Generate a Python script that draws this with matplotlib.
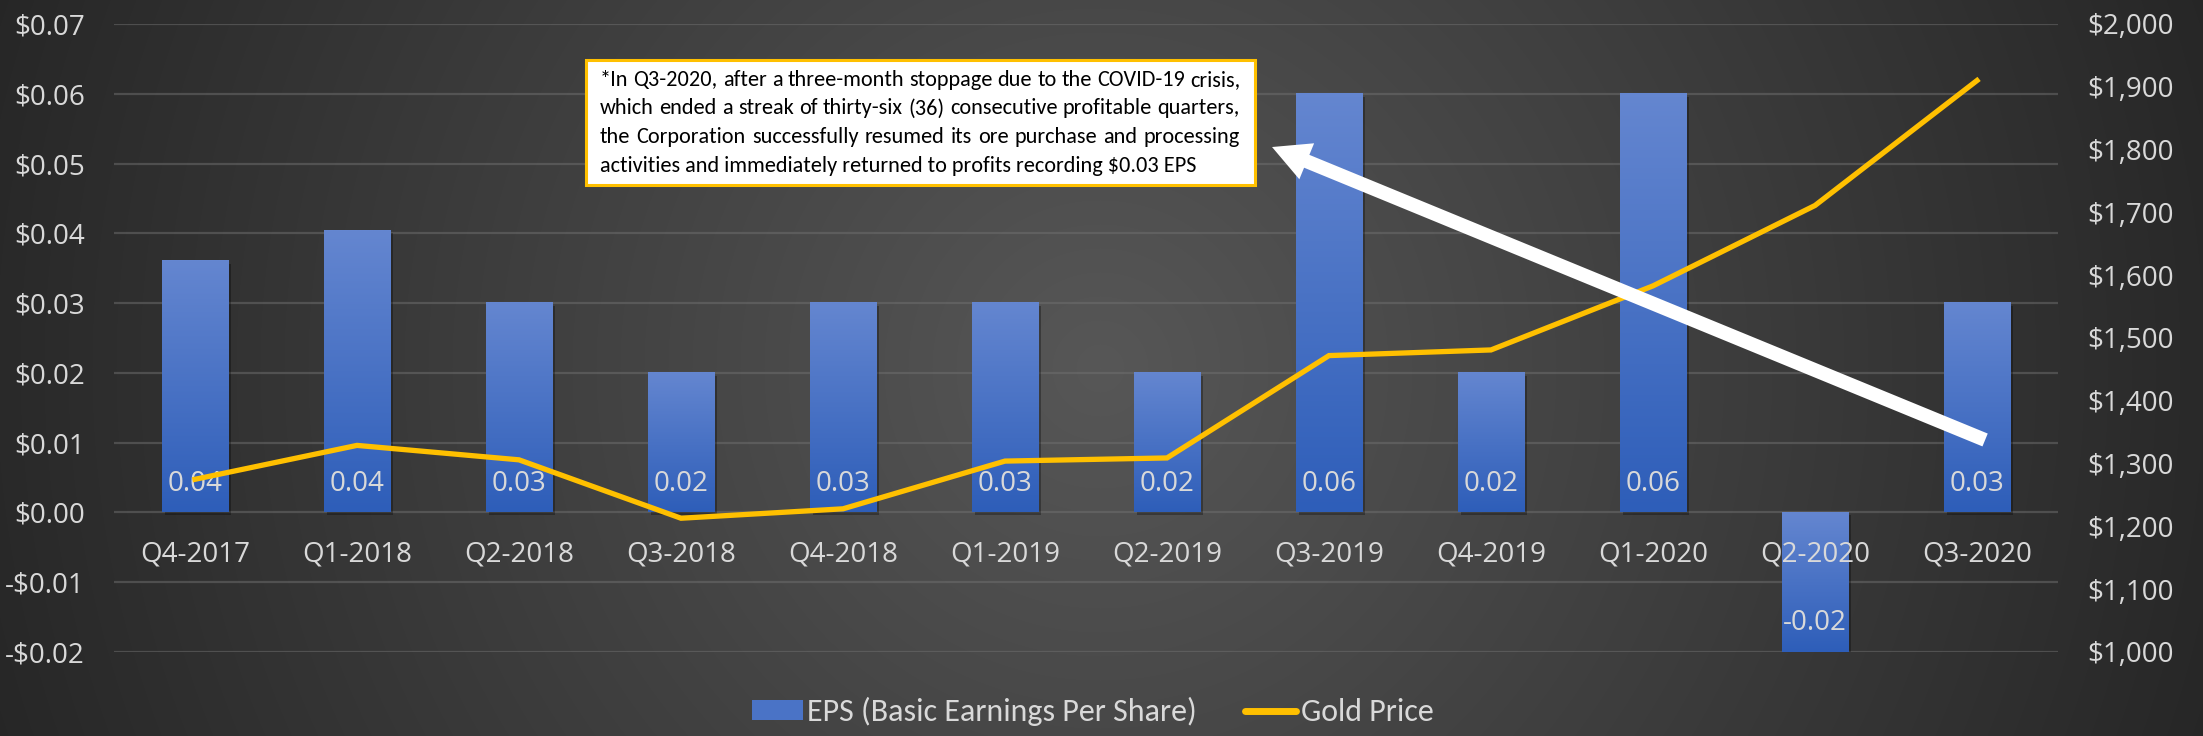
import numpy as np
import matplotlib
matplotlib.use("Agg")
import matplotlib.pyplot as plt
from matplotlib import font_manager
from matplotlib.colors import LinearSegmentedColormap
from matplotlib.patches import Patch, Rectangle
from matplotlib.lines import Line2D
import matplotlib.transforms as mtransforms

# data
quarters = ['Q4-2017', 'Q1-2018', 'Q2-2018', 'Q3-2018', 'Q4-2018', 'Q1-2019',
            'Q2-2019', 'Q3-2019', 'Q4-2019', 'Q1-2020', 'Q2-2020', 'Q3-2020']
eps = [0.036, 0.0404, 0.03, 0.02, 0.03, 0.03, 0.02, 0.06, 0.02, 0.06, -0.02, 0.03]
gold = [1275, 1329, 1306, 1213, 1228, 1304, 1309, 1472, 1481, 1583, 1711, 1910]
eps_ticks = [-0.02, -0.01, 0.0, 0.01, 0.02, 0.03, 0.04, 0.05, 0.06, 0.07]
gold_ticks = [1000, 1100, 1200, 1300, 1400, 1500, 1600, 1700, 1800, 1900, 2000]
note_lines = [
    "*In Q3-2020, after a three-month stoppage due to the COVID-19 crisis,",
    "which ended a streak of thirty-six (36) consecutive profitable quarters,",
    "the Corporation successfully resumed its ore purchase and processing",
    "activities and immediately returned to profits recording $0.03 EPS",
]

names = {f.name for f in font_manager.fontManager.ttflist}
def pick(*cands):
    for c in cands:
        if c in names:
            return c
    return 'DejaVu Sans'

main_font = pick('Open Sans', 'Noto Sans', 'DejaVu Sans')
narrow_font = pick('Carlito', 'Fira Sans Condensed', 'Roboto Condensed', 'Open Sans')
txt_col = '#d9d9d9'

W, H = 2203, 736
fig = plt.figure(figsize=(W / 100, H / 100), dpi=100)

# radial background
yy, xx = np.mgrid[0:H, 0:W]
d = np.sqrt((xx - 1100) ** 2 + (yy - 368) ** 2) / 1200
d = np.clip(d, 0, 1)
g = (0x57 - (0x57 - 0x25) * d) / 255
bg = np.dstack([g, g, g])
fig.figimage(bg, xo=0, yo=0, origin='upper', zorder=-5)

ax = fig.add_axes([114 / W, 1 - 652 / H, 1944 / W, 628 / H])
ax.set_facecolor('none')
ax2 = ax.twinx()

x = np.arange(len(quarters))
bw = 0.41
cmap = LinearSegmentedColormap.from_list('bar', ['#2e5eb9', '#6486d0'])
grad = np.linspace(1, 0, 100).reshape(-1, 1)
shadow_tr = ax.transData + mtransforms.ScaledTranslation(2 / 72, -2 / 72, fig.dpi_scale_trans)
for i, v in enumerate(eps):
    lo, hi = min(0, v), max(0, v)
    ax.add_patch(Rectangle((i - bw / 2, lo), bw, hi - lo, color='black', alpha=0.3,
                           lw=0, transform=shadow_tr, zorder=2))
    ax.imshow(grad, extent=[i - bw / 2, i + bw / 2, lo, hi], aspect='auto',
              cmap=cmap, zorder=3, interpolation='bilinear')
    ax.text(i, lo + 0.0041, f"{v:.2f}", ha='center', va='center', color=txt_col,
            fontsize=20, family=main_font, zorder=4)
    ax.annotate(quarters[i], (i, 0), xytext=(0, -30), textcoords='offset points',
                ha='center', va='center', color=txt_col, fontsize=20,
                family=main_font, zorder=5)

ax.set_xlim(-0.5, len(quarters) - 0.5)
ax.set_ylim(-0.02, 0.07)
ax.set_yticks(eps_ticks)
ax.set_yticklabels([('-$%.2f' % -t) if t < 0 else ('$%.2f' % t) for t in eps_ticks])
ax.set_xticks([])
ax.set_axisbelow(True)
ax.grid(axis='y', color='#707070', alpha=0.5, lw=1.6)

ax2.plot(x, gold, color='#ffc000', lw=3.8, solid_joinstyle='miter')
ax2.set_ylim(1000, 2000)
ax2.set_yticks(gold_ticks)
ax2.set_yticklabels(['${:,}'.format(t) for t in gold_ticks])

for a in (ax, ax2):
    for s in a.spines.values():
        s.set_visible(False)
    a.tick_params(length=0, labelsize=20, labelcolor=txt_col, pad=21)
    for lab in a.get_yticklabels():
        lab.set_family(main_font)

# annotation box, text justified like the original
fig.patches.append(Rectangle((586 / W, 1 - 185 / H), 669 / W, 125 / H, transform=fig.transFigure,
                             facecolor='white', edgecolor='#ffc000', lw=2.2, zorder=10))
left_px, right_px = 600, 1240
renderer = fig.canvas.get_renderer()
for k, line in enumerate(note_lines):
    yb = 1 - (86 + 28.5 * k) / H
    if k == len(note_lines) - 1:
        fig.text(left_px / W, yb, line, ha='left', va='baseline', fontsize=16,
                 family=narrow_font, color='black', zorder=11)
        continue
    words = line.split()
    tx = [fig.text(0, yb, w, ha='left', va='baseline', fontsize=16,
                   family=narrow_font, color='black', zorder=11) for w in words]
    widths = [t.get_window_extent(renderer).width for t in tx]
    gap = (right_px - left_px - sum(widths)) / (len(words) - 1)
    pos = left_px
    for t, w in zip(tx, widths):
        t.set_x(pos / W)
        pos += w + gap

ax2.annotate('', xy=(0.5957, 0.8041), xytext=(0.9625, 0.3376), xycoords='axes fraction',
             arrowprops=dict(arrowstyle='simple,head_length=2.7,head_width=2.8,tail_width=1.0',
                             mutation_scale=10, color='white', lw=0, shrinkA=0, shrinkB=0),
             zorder=12)

handles = [Patch(facecolor='#4a73c6', edgecolor='none'),
           Line2D([0], [0], color='#ffc000', lw=5, solid_capstyle='round')]
fig.legend(handles, ['EPS (Basic Earnings Per Share)', 'Gold Price'], loc='center',
           bbox_to_anchor=(0.496, 0.033), ncol=2, frameon=False,
           prop={'family': narrow_font, 'size': 23}, labelcolor=txt_col,
           handlelength=1.6, handleheight=0.6, handletextpad=0.15, columnspacing=1.5)

fig.savefig('out.png', dpi=100)
